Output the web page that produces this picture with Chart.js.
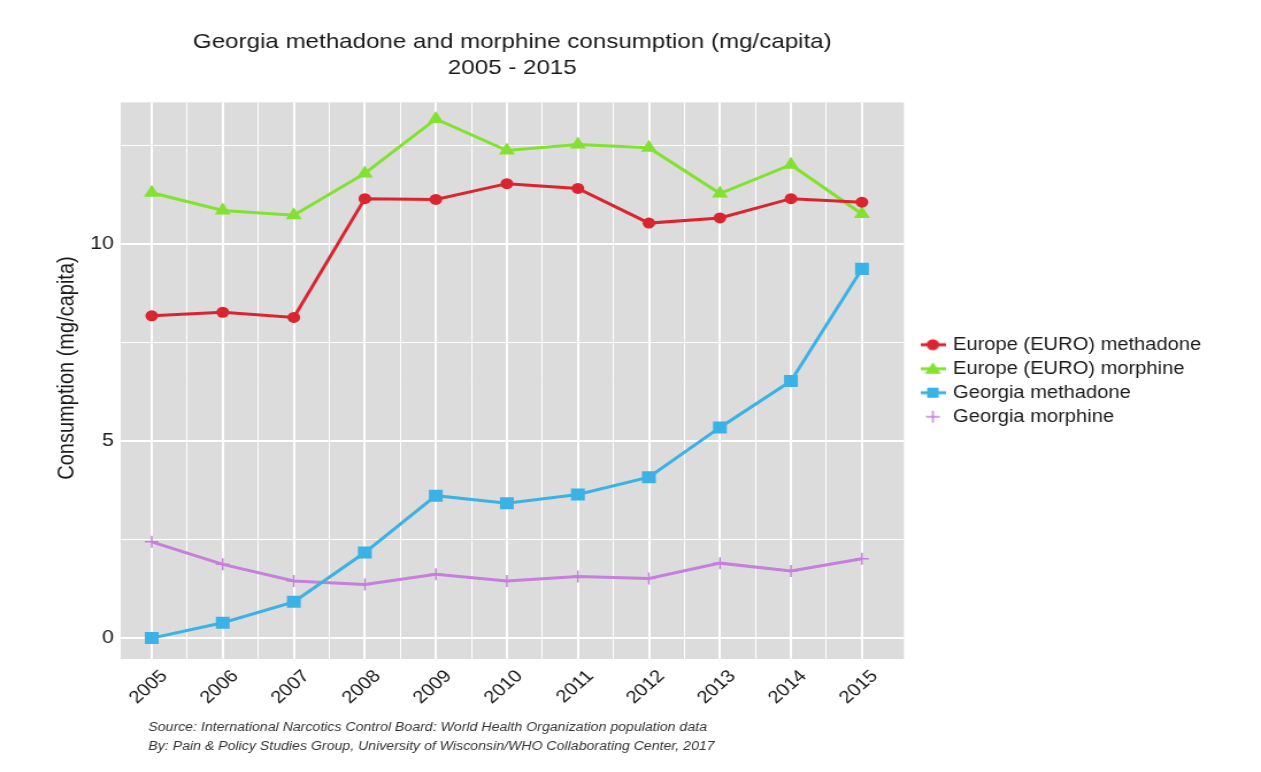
<!DOCTYPE html>
<html>
<head>
<meta charset="utf-8">
<script src="https://cdn.jsdelivr.net/npm/chart.js@4"></script>
<style>
  body { margin: 0; background: #fff; overflow: hidden; }
  /* the reference is stretched sideways, so the chart is drawn narrower and scaled */
  #wrap { position: relative; width: 1097px; height: 772px; transform: scale(1.1495, 1); transform-origin: 0 0; }
</style>
</head>
<body>
<div id="wrap"><canvas id="chart"></canvas></div>
<script>
const years = [2005, 2006, 2007, 2008, 2009, 2010, 2011, 2012, 2013, 2014, 2015];
const euroMethadone = [8.17, 8.26, 8.13, 11.14, 11.12, 11.52, 11.40, 10.52, 10.65, 11.14, 11.05];
const euroMorphine = [11.29, 10.84, 10.72, 11.78, 13.16, 12.36, 12.51, 12.43, 11.27, 12.00, 10.75];
const georgiaMethadone = [0.0, 0.39, 0.92, 2.17, 3.61, 3.42, 3.64, 4.08, 5.34, 6.52, 9.36];
const georgiaMorphine = [2.44, 1.87, 1.45, 1.36, 1.62, 1.45, 1.56, 1.51, 1.90, 1.70, 2.01];
const seriesNames = ["Europe (EURO) methadone", "Europe (EURO) morphine", "Georgia methadone", "Georgia morphine"];
const yTicks = [0, 2.5, 5, 7.5, 10, 12.5];

const FONT = "'Liberation Sans', Arial, sans-serif";
const colors = ["#da2530", "#82e22f", "#3bb2e6", "#c67fdc"];
const styles = ["circle", "triangle", "rect", "cross"];
const radii = [5.5, 8, 8.5, 6];

// legend keys in ggplot style: short line with the marker on top
function makeKey(i) {
  const c = document.createElement("canvas");
  c.width = 22; c.height = 16;
  const g = c.getContext("2d");
  g.strokeStyle = colors[i];
  g.fillStyle = colors[i];
  if (styles[i] !== "cross") {
    g.lineWidth = 3;
    g.beginPath(); g.moveTo(0, 8); g.lineTo(22, 8); g.stroke();
  }
  g.beginPath();
  if (styles[i] === "circle") {
    g.arc(11, 8, 5.5, 0, Math.PI * 2); g.fill();
  } else if (styles[i] === "triangle") {
    g.moveTo(11, 1.5); g.lineTo(18, 13); g.lineTo(4, 13); g.closePath(); g.fill();
  } else if (styles[i] === "rect") {
    g.rect(6, 3, 10, 10); g.fill();
  } else {
    g.lineWidth = 1.5;
    g.moveTo(5, 8); g.lineTo(17, 8); g.moveTo(11, 2); g.lineTo(11, 14); g.stroke();
  }
  return c;
}
const keys = [0, 1, 2, 3].map(makeKey);

const seriesData = [euroMethadone, euroMorphine, georgiaMethadone, georgiaMorphine];
const datasets = seriesData.map((vals, i) => ({
  label: seriesNames[i],
  data: vals.map((v, j) => ({ x: years[j], y: v })),
  borderColor: colors[i],
  backgroundColor: colors[i],
  borderWidth: 3,
  pointStyle: styles[i],
  pointRadius: radii[i],
  pointBackgroundColor: colors[i],
  pointBorderColor: colors[i],
  pointBorderWidth: styles[i] === "cross" ? 1.5 : 0,
  tension: 0
}));

const panelBg = {
  id: "panelBg",
  beforeDraw(chart) {
    const { ctx, chartArea: a } = chart;
    ctx.save();
    ctx.fillStyle = "#dcdcdc";
    ctx.fillRect(a.left, a.top, a.right - a.left, a.bottom - a.top);
    ctx.restore();
  },
  afterLayout(chart) {
    chart.legend.left = chart.chartArea.right + 10;
  }
};

const extraText = {
  id: "extraText",
  afterDraw(chart) {
    const ctx = chart.ctx;
    ctx.save();
    // y axis title
    ctx.font = "20px " + FONT;
    ctx.fillStyle = "#1a1a1a";
    ctx.textAlign = "center";
    ctx.textBaseline = "middle";
    ctx.translate(58, 368);
    ctx.rotate(-Math.PI / 2);
    ctx.fillText("Consumption (mg/capita)", 0, 0);
    ctx.restore();

    ctx.save();
    ctx.font = "italic 12.3px " + FONT;
    ctx.fillStyle = "#333";
    ctx.textBaseline = "middle";
    ctx.fillText("Source: International Narcotics Control Board: World Health Organization population data", 129, 728);
    ctx.fillText("By: Pain & Policy Studies Group, University of Wisconsin/WHO Collaborating Center, 2017", 129, 747);
    ctx.restore();
  }
};

new Chart(document.getElementById("chart"), {
  type: "line",
  data: { datasets },
  plugins: [panelBg, extraText],
  options: {
    responsive: true,
    maintainAspectRatio: false,
    animation: false,
    layout: { padding: { left: 0, right: 52, top: 0, bottom: 0 } },
    plugins: {
      tooltip: { enabled: false },
      title: {
        display: true,
        fullSize: false,
        text: ["Georgia methadone and morphine consumption (mg/capita)", "2005 - 2015"],
        color: "#1a1a1a",
        font: { family: FONT, size: 21, weight: "normal", lineHeight: 1.2 },
        padding: { top: 30, bottom: 22 }
      },
      legend: {
        position: "right",
        fullSize: false,
        labels: {
          usePointStyle: true,
          color: "#1a1a1a",
          font: { family: FONT, size: 17.5 },
          padding: 6.5,
          generateLabels(chart) {
            return Chart.defaults.plugins.legend.labels.generateLabels(chart)
              .map((l, i) => ({ ...l, pointStyle: keys[i] }));
          }
        }
      }
    },
    scales: {
      x: {
        type: "linear",
        min: 2004.563,
        max: 2015.59,
        afterBuildTicks(scale) {
          const t = [];
          years.forEach((y, i) => {
            t.push({ value: y });
            if (i < years.length - 1) t.push({ value: y + 0.5 });
          });
          scale.ticks = t;
        },
        afterFit(scale) { scale.height = 113; },
        border: { display: false },
        grid: {
          color: "#ffffff",
          lineWidth: ctx => (ctx.tick && Number.isInteger(ctx.tick.value) ? 2 : 1),
          drawTicks: false
        },
        ticks: {
          autoSkip: false,
          minRotation: 45,
          maxRotation: 45,
          padding: 7,
          labelOffset: 11,
          color: "#1a1a1a",
          font: { family: FONT, size: 17.5 },
          callback: v => (Number.isInteger(v) ? String(v) : "")
        }
      },
      y: {
        min: -0.53,
        max: 13.58,
        afterBuildTicks(scale) {
          scale.ticks = yTicks.map(v => ({ value: v }));
        },
        afterFit(scale) { scale.width = 105; },
        border: { display: false },
        grid: {
          color: "#ffffff",
          lineWidth: ctx => (ctx.tick && ctx.tick.value % 5 === 0 ? 2 : 1),
          drawTicks: false
        },
        ticks: {
          padding: 6,
          color: "#1a1a1a",
          font: { family: FONT, size: 18.5 },
          callback: v => (v % 5 === 0 ? String(v) : "")
        }
      }
    }
  }
});
</script>
</body>
</html>
